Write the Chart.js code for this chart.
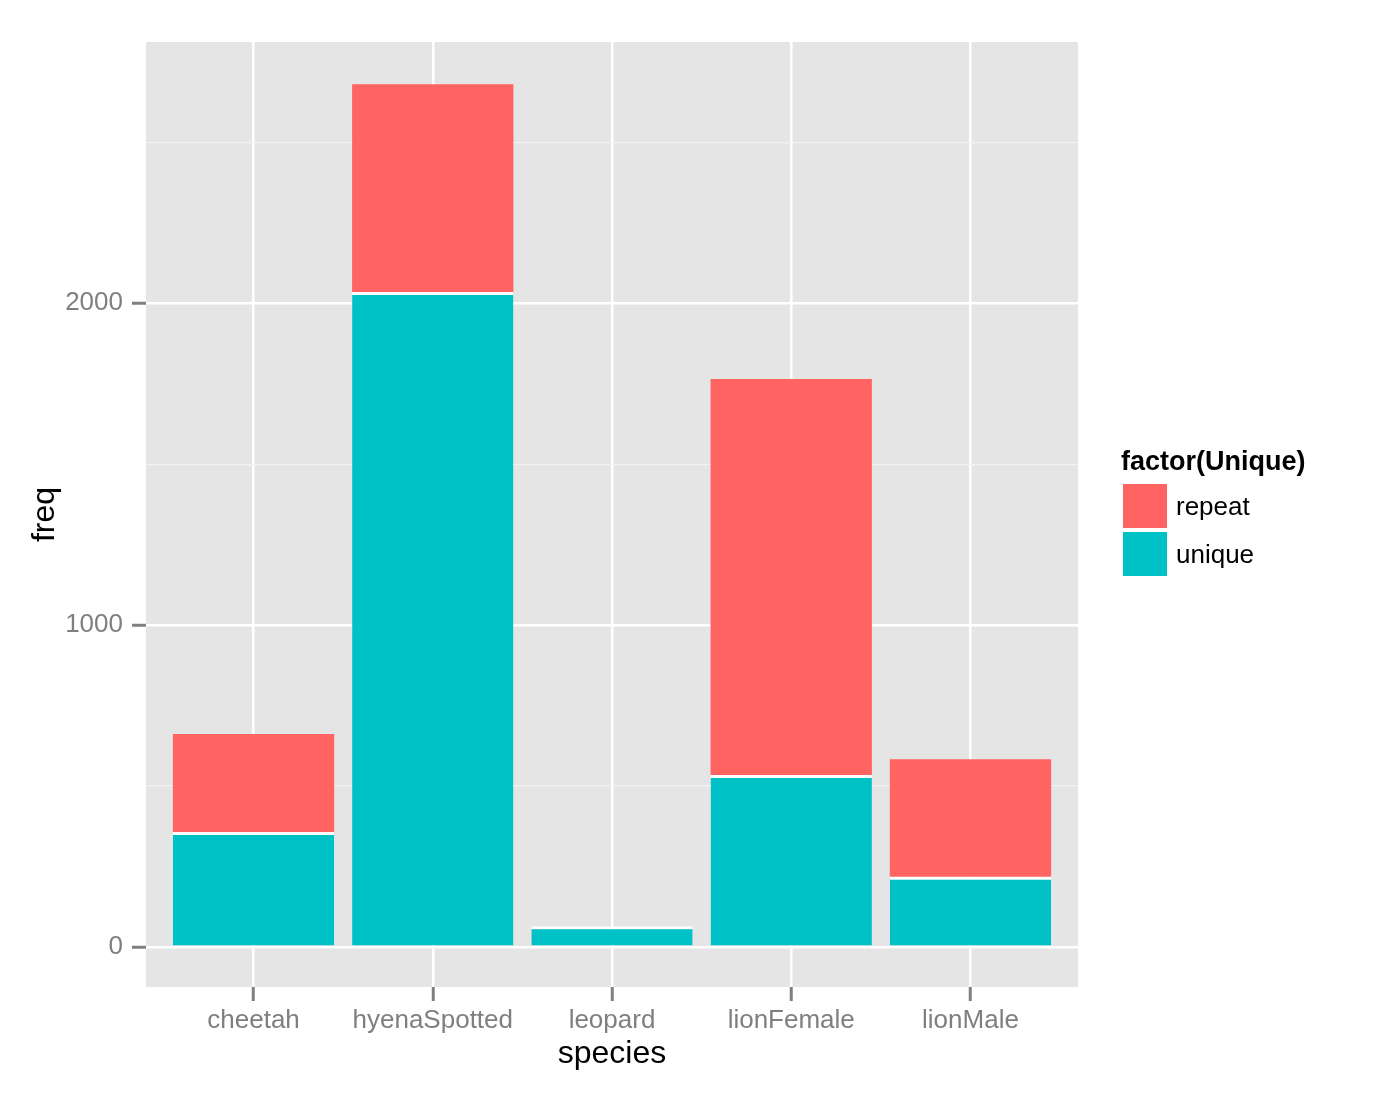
<!DOCTYPE html>
<html>
<head>
<meta charset="utf-8">
<script src="https://cdn.jsdelivr.net/npm/chart.js@4"></script>
<style>
  body { margin: 0; background: #fff; }
  #wrap { position: relative; width: 1383px; height: 1093px; }
  #legend { position: absolute; left: 1121px; top: 445px; font-family: "Liberation Sans", Arial, sans-serif; }
  #legend .title { font-weight: bold; font-size: 27px; line-height: 32px; margin-bottom: 5px; }
  #legend .item { display: flex; align-items: center; height: 48px; }
  #legend .box { width: 44px; height: 44px; margin: 0 9px 0 2px; }
  #legend .lab { font-size: 26px; }
</style>
</head>
<body>
<div id="wrap">
  <canvas id="myChart"></canvas>
  <div id="legend"></div>
</div>
<script>
let species = ['cheetah', 'hyenaSpotted', 'leopard', 'lionFemale', 'lionMale']
let uniqueFreq = [357, 2035, 64, 534, 218]
let repeatFreq = [304, 646, 0, 1231, 365]
let yTicks = [0, 500, 1000, 1500, 2000, 2500]

let colors = { repeat: '#FF6462', unique: '#00C1C5' }

let plot = () => {

    const ctx = document.getElementById('myChart');
    ctx.width = 1383;
    ctx.height = 1093;

    const panelBg = {
        id: 'panelBg',
        beforeDraw: (chart) => {
            const a = chart.chartArea;
            chart.ctx.save();
            chart.ctx.fillStyle = '#E5E5E5';
            chart.ctx.fillRect(a.left, a.top, a.right - a.left, a.bottom - a.top);
            chart.ctx.restore();
        }
    };

    const dataset = {
        datasets: [{
            label: 'unique',
            data: uniqueFreq.map((v, i) => ({ x: i + 1, y: v })),
            backgroundColor: colors.unique,
            borderColor: '#ffffff',
            borderWidth: { top: 3, left: 0, right: 0, bottom: 0 },
            borderSkipped: false,
            barPercentage: 0.9,
            categoryPercentage: 1
        }, {
            label: 'repeat',
            data: repeatFreq.map((v, i) => ({ x: i + 1, y: v })),
            backgroundColor: colors.repeat,
            borderWidth: 0,
            barPercentage: 0.9,
            categoryPercentage: 1
        }]
    };

    const config = {
        type: 'bar',
        data: dataset,
        plugins: [panelBg],
        options: {
            responsive: false,
            animation: false,
            layout: { padding: { left: 0, top: 42, right: 305, bottom: 0 } },
            plugins: { legend: { display: false }, tooltip: { enabled: false } },
            scales: {
                x: {
                    type: 'linear',
                    stacked: true,
                    offset: false,
                    min: 0.4,
                    max: 5.6,
                    afterBuildTicks: (s) => { s.ticks = species.map((n, i) => ({ value: i + 1 })) },
                    afterFit: (s) => { s.height = 106 },
                    ticks: {
                        callback: (v) => species[v - 1],
                        color: '#7F7F7F',
                        font: { family: '"Liberation Sans", Arial', size: 26 },
                        padding: 4,
                        maxRotation: 0,
                        autoSkip: false
                    },
                    grid: { offset: false, color: '#ffffff', lineWidth: 2.5, tickColor: '#7F7F7F', tickWidth: 3, tickLength: 14 },
                    border: { display: false },
                    title: {
                        display: true,
                        text: 'species',
                        color: '#000',
                        font: { family: '"Liberation Sans", Arial', size: 32 },
                        padding: { top: 0, bottom: 20 }
                    }
                },
                y: {
                    stacked: true,
                    min: -125,
                    max: 2812,
                    afterBuildTicks: (s) => { s.ticks = yTicks.map(v => ({ value: v })) },
                    afterFit: (s) => { s.width = 146 },
                    ticks: {
                        callback: (v) => v % 1000 === 0 ? v : '',
                        color: '#7F7F7F',
                        font: { family: '"Liberation Sans", Arial', size: 26 },
                        padding: 9
                    },
                    grid: {
                        color: (c) => c.tick && c.tick.value % 1000 === 0 ? '#ffffff' : '#F2F2F2',
                        lineWidth: (c) => c.tick && c.tick.value % 1000 === 0 ? 2.5 : 1.2,
                        tickColor: (c) => c.tick && c.tick.value % 1000 === 0 ? '#7F7F7F' : 'rgba(0,0,0,0)',
                        tickWidth: 3,
                        tickLength: 14
                    },
                    border: { display: false },
                    title: {
                        display: true,
                        text: 'freq',
                        color: '#000',
                        font: { family: '"Liberation Sans", Arial', size: 32 },
                        padding: { top: 26, bottom: 0 }
                    }
                }
            }
        }
    };

    const chart = new Chart(ctx, config)
}

let legend = () => {
    let html = '<div class="title">factor(Unique)</div>';
    ['repeat', 'unique'].forEach(k => {
        html += '<div class="item"><div class="box" style="background:' + colors[k] + '"></div><span class="lab">' + k + '</span></div>';
    });
    document.getElementById('legend').innerHTML = html;
}

plot();
legend();
</script>
</body>
</html>
